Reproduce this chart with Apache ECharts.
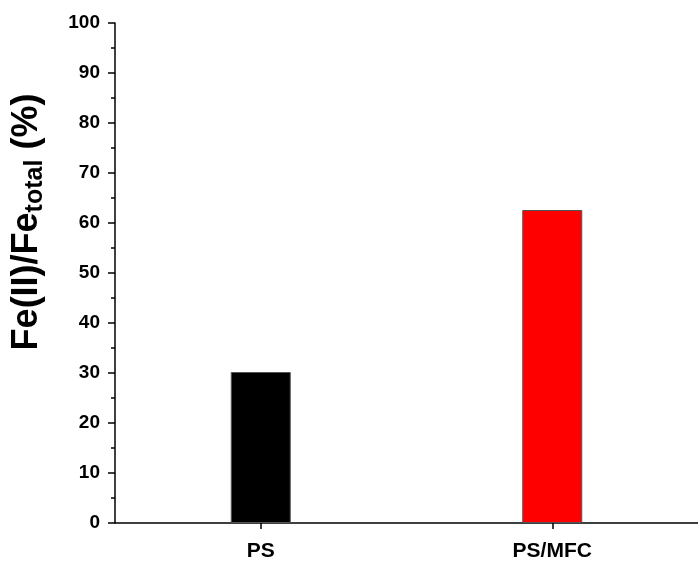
<!DOCTYPE html>
<html>
<head>
<meta charset="utf-8">
<script src="https://cdn.jsdelivr.net/npm/echarts@6/dist/echarts.min.js"></script>
<style>
  html, body { margin: 0; padding: 0; background: #fff; }
  #main { width: 698px; height: 569px; }
</style>
</head>
<body>
<div id="main"></div>
<script>
// 数据
var categories = ['PS', 'PS/MFC'];
var values = [30.2, 62.6];
var barColors = ['#000000', '#ff0000'];
var yMin = 0, yMax = 100, yStep = 10;

var chart = echarts.init(document.getElementById('main'), null, { renderer: 'canvas' });

var option = {
    animation: false,
    grid: {
        left: 115,
        right: -8,
        top: 23,
        bottom: 46
    },
    xAxis: {
        type: 'category',
        data: categories,
        axisLine: { lineStyle: { color: '#000', width: 1.5 } },
        axisTick: { show: true, alignWithLabel: true, length: 6, lineStyle: { color: '#000', width: 1.5 } },
        axisLabel: {
            margin: 18,
            color: '#000',
            fontFamily: 'Liberation Sans, Arial',
            fontWeight: 'bold',
            fontSize: 21
        }
    },
    yAxis: {
        type: 'value',
        min: yMin,
        max: yMax,
        interval: yStep,
        name: '{b|Fe(II)/Fe}{s|total}{b| (%)}',
        nameLocation: 'middle',
        nameGap: 67,
        nameRotate: 90,
        nameTextStyle: {
            padding: [0, 0, 0, 102],
            rich: {
                b: { fontFamily: 'Liberation Sans, Arial', fontWeight: 'bold', fontSize: 36, color: '#000' },
                s: { fontFamily: 'Liberation Sans, Arial', fontWeight: 'bold', fontSize: 25, color: '#000', padding: [17, 0, 0, 0] }
            }
        },
        splitLine: { show: false },
        axisLine: { show: true, lineStyle: { color: '#000', width: 1.5 } },
        axisTick: { show: true, inside: false, length: 7, lineStyle: { color: '#000', width: 1.5 } },
        minorTick: { show: true, splitNumber: 2, length: 4, lineStyle: { color: '#000', width: 1.5 } },
        axisLabel: {
            margin: 15,
            color: '#000',
            fontFamily: 'Liberation Sans, Arial',
            fontWeight: 'bold',
            fontSize: 19
        }
    },
    series: [
        {
            type: 'bar',
            barWidth: 60,
            data: values.map(function (v, i) {
                return {
                    value: v,
                    itemStyle: { color: barColors[i], borderColor: '#555', borderWidth: 1 }
                };
            })
        }
    ]
};

chart.setOption(option);
</script>
</body>
</html>
